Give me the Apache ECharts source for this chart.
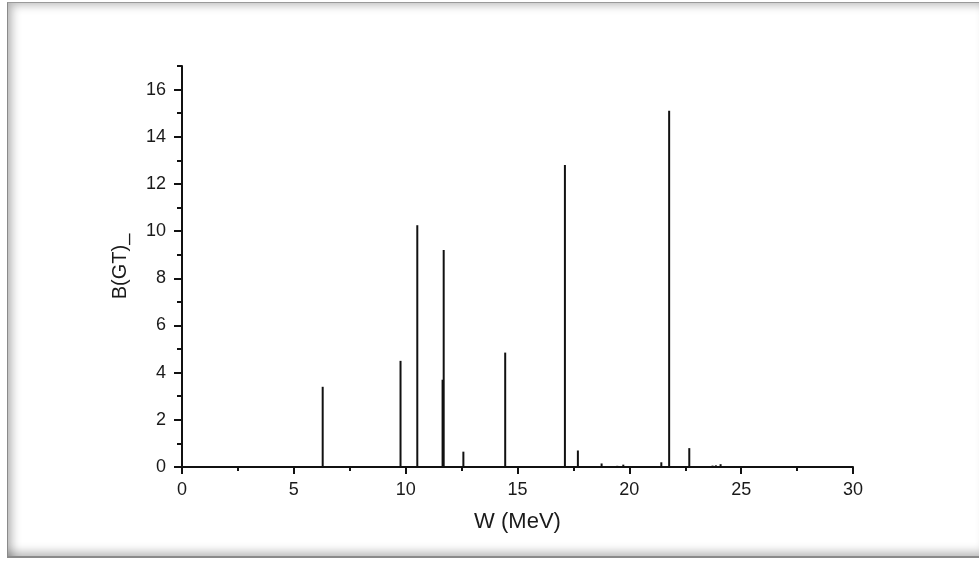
<!DOCTYPE html>
<html>
<head>
<meta charset="utf-8">
<script src="https://cdn.jsdelivr.net/npm/echarts@6/dist/echarts.min.js"></script>
<style>
html,body{margin:0;padding:0;background:#fff;}
#frame{position:absolute;left:7px;top:2px;width:972px;height:556px;box-sizing:border-box;
 border-left:1px solid #8a8a8a;border-top:1px solid #9a9a9a;border-bottom:2px solid #8a8a8a;
 box-shadow: inset 10px 8px 10px -6px rgba(0,0,0,0.28), inset 0 -10px 10px -6px rgba(0,0,0,0.28);}
#chart{position:absolute;left:0;top:0;width:979px;height:563px;}
</style>
</head>
<body>
<div id="frame"></div>
<div id="chart"></div>
<script>
// Data (W in MeV, B(GT)_ strength)
var energies = [6.29, 9.77, 10.52, 11.65, 11.70, 12.58, 14.45, 17.12, 17.70, 18.76, 19.46, 19.73, 21.43, 21.78, 22.68, 23.72, 23.87, 24.08, 24.75, 26.92];
var strengths = [3.4, 4.5, 10.25, 3.7, 9.2, 0.65, 4.85, 12.8, 0.7, 0.15, 0.05, 0.1, 0.2, 15.1, 0.8, 0.06, 0.07, 0.12, 0.03, 0.04];
var yMajorTicks = [0, 2, 4, 6, 8, 10, 12, 14, 16];
var yMinorTicks = [1, 3, 5, 7, 9, 11, 13, 15, 17];
var xLabelName = 'W (MeV)';
var yLabelName = 'B(GT)_';

var pairs = energies.map(function(e, i){ return [e, strengths[i]]; });
var font = 'Liberation Sans, Arial, sans-serif';
var chart = echarts.init(document.getElementById('chart'));
chart.setOption({
  animation: false,
  grid: {left: 182, right: 126, top: 66, bottom: 96},
  xAxis: {
    type: 'value', min: 0, max: 30, interval: 5,
    name: xLabelName, nameLocation: 'middle', nameGap: 44,
    nameTextStyle: {fontFamily: font, fontSize: 22, color: '#1a1a1a'},
    axisLine: {show: true, lineStyle: {color: '#111', width: 2}},
    axisTick: {show: true, inside: false, length: 7, lineStyle: {color: '#111', width: 2}},
    minorTick: {show: true, splitNumber: 2, length: 4, lineStyle: {color: '#111', width: 2}},
    axisLabel: {margin: 14, fontFamily: font, fontSize: 18, color: '#1a1a1a'},
    splitLine: {show: false}, minorSplitLine: {show: false}
  },
  yAxis: [{
    type: 'value', min: 0, max: 17, interval: 2,
    name: yLabelName, nameLocation: 'middle', nameGap: 52, nameRotate: 90,
    nameTextStyle: {fontFamily: font, fontSize: 20, color: '#1a1a1a'},
    axisLine: {show: true, lineStyle: {color: '#111', width: 2}},
    axisTick: {show: true, length: 8, customValues: yMajorTicks, lineStyle: {color: '#111', width: 2}},
    axisLabel: {margin: 16, customValues: yMajorTicks, fontFamily: font, fontSize: 18, color: '#1a1a1a'},
    splitLine: {show: false}
  }, {
    type: 'value', min: 0, max: 17, interval: 1, position: 'left',
    axisLine: {show: false},
    axisTick: {show: true, length: 5, customValues: yMinorTicks, lineStyle: {color: '#111', width: 2}},
    axisLabel: {show: false},
    splitLine: {show: false}
  }],
  series: [{
    type: 'bar',
    data: pairs,
    barWidth: 2,
    itemStyle: {color: '#111'}
  }]
});
</script>
</body>
</html>
